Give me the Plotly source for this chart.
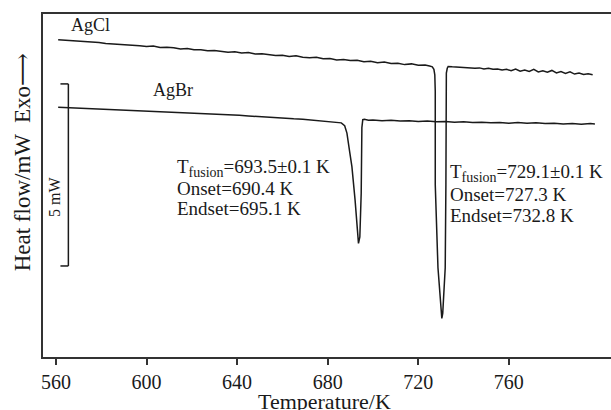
import plotly.graph_objects as go

# ---- data ----
agcl_T = [561, 564, 567, 570, 573, 576, 579, 582, 585, 588, 591, 594, 597, 600, 603, 606, 609, 612,
          615, 618, 621, 624, 627, 630, 633, 636, 639, 642, 645, 648, 651, 654, 657, 660, 663, 666,
          669, 672, 675, 678, 681, 684, 687, 690, 693, 696, 699, 702, 705, 708, 711, 714, 717, 720,
          723, 725, 726.2, 726.9, 727.3, 727.5, 727.5, 728.7, 730.0, 730.4, 730.8, 731.2, 731.9,
          732.2, 732.2, 732.4, 732.8, 733.2,
          735, 737, 739, 741, 743, 745, 747, 749, 751, 753, 755, 757, 759, 761, 763, 765, 767, 769,
          771, 773, 775, 777, 779, 781, 783, 785, 787, 789, 791, 793, 795, 797]
agcl_H = [8.71, 8.70, 8.68, 8.67, 8.67, 8.64, 8.64, 8.61, 8.60, 8.60, 8.57, 8.58, 8.55, 8.53, 8.54,
          8.50, 8.51, 8.49, 8.46, 8.47, 8.44, 8.44, 8.41, 8.42, 8.39, 8.37, 8.38, 8.35, 8.36, 8.32,
          8.33, 8.30, 8.28, 8.29, 8.25, 8.27, 8.23, 8.22, 8.23, 8.19, 8.20, 8.16, 8.17, 8.14, 8.15,
          8.11, 8.12, 8.08, 8.10, 8.06, 8.07, 8.03, 8.05, 8.01, 8.02, 7.99, 7.97, 7.90, 7.75, 7.30,
          4.73, 2.45, 1.40, 1.06, 1.20, 1.57, 2.45, 4.73, 7.50, 7.80, 7.93, 7.98,
          7.97, 7.96, 7.97, 7.94, 7.95, 7.93, 7.94, 7.91, 7.93, 7.90, 7.91, 7.88, 7.90, 7.86, 7.91,
          7.85, 7.88, 7.84, 7.90, 7.83, 7.86, 7.82, 7.87, 7.80, 7.84, 7.79, 7.83, 7.77, 7.80, 7.76,
          7.78, 7.75]

agbr_T = [561, 565, 569, 573, 577, 581, 585, 589, 593, 597, 601, 605, 609, 613, 617, 621, 625, 629,
          633, 637, 641, 645, 649, 653, 657, 661, 665, 669, 673, 677, 681, 684, 686, 687.5, 688.5,
          689.8, 690.7, 692.1, 693.0, 693.6, 694.2, 694.8, 695.1, 695.5, 696.2, 698,
          700, 704, 708, 712, 716, 720, 724, 728, 732, 736, 740, 744, 748, 752, 756, 760, 764, 768,
          772, 776, 780, 784, 788, 792, 796, 798]
agbr_H = [6.86, 6.85, 6.84, 6.83, 6.82, 6.81, 6.80, 6.79, 6.78, 6.77, 6.76, 6.75, 6.74, 6.73, 6.72,
          6.71, 6.70, 6.68, 6.67, 6.65, 6.64, 6.62, 6.60, 6.59, 6.57, 6.56, 6.54, 6.53, 6.51, 6.49,
          6.47, 6.46, 6.43, 6.35, 6.15, 5.60, 5.23, 4.31, 3.60, 3.12, 3.30, 4.50, 6.30, 6.52, 6.53,
          6.50, 6.51, 6.49, 6.50, 6.48, 6.49, 6.47, 6.48, 6.46, 6.47, 6.45, 6.46, 6.44, 6.45, 6.43,
          6.44, 6.42, 6.44, 6.42, 6.43, 6.41, 6.42, 6.40, 6.41, 6.39, 6.41, 6.40]

x_ticks = [560, 600, 640, 680, 720, 760]
scale_bar_mW = [2.5, 7.5]   # 5 mW scale bar
scale_bar_T = 565.5

FONT = "Liberation Serif"
INK = "#1a1a1a"

fig = go.Figure()
fig.add_trace(go.Scatter(x=agcl_T, y=agcl_H, mode="lines", line=dict(color=INK, width=1.5),
                         name="AgCl", showlegend=False))
fig.add_trace(go.Scatter(x=agbr_T, y=agbr_H, mode="lines", line=dict(color=INK, width=1.5),
                         name="AgBr", showlegend=False))

# scale bar (bracket)
fig.add_shape(type="line", x0=scale_bar_T, x1=scale_bar_T, y0=scale_bar_mW[0], y1=scale_bar_mW[1],
              line=dict(color=INK, width=1.5))
for yy in scale_bar_mW:
    fig.add_shape(type="line", x0=scale_bar_T - 3.5, x1=scale_bar_T, y0=yy, y1=yy,
                  line=dict(color=INK, width=1.5))

ann = []
ann.append(dict(x=559.7, y=4.4, xref="x", yref="y", text="5 mW", textangle=-90, showarrow=False,
                xanchor="center", yanchor="middle",
                font=dict(family=FONT, size=16, color=INK)))
ann.append(dict(x=575.2, y=9.12, xref="x", yref="y", text="AgCl", showarrow=False,
                xanchor="center", yanchor="middle",
                font=dict(family=FONT, size=18, color=INK)))
ann.append(dict(x=611.8, y=7.34, xref="x", yref="y", text="AgBr", showarrow=False,
                xanchor="center", yanchor="middle",
                font=dict(family=FONT, size=18, color=INK)))

def px2y(py):
    return (357 - py) / 36.4

SUB = "<sub><span style='font-size:14px'>fusion</span></sub>"
for txt, yy in [("T" + SUB + "=693.5±0.1 K", 168), ("Onset=690.4 K", 189), ("Endset=695.1 K", 209)]:
    ann.append(dict(x=612.7, y=px2y(yy), xref="x", yref="y", text=txt, showarrow=False,
                    xanchor="left", yanchor="middle", font=dict(family=FONT, size=19, color=INK)))
for txt, yy in [("T" + SUB + "=729.1±0.1 K", 173), ("Onset=727.3 K", 195), ("Endset=732.8 K", 216)]:
    ann.append(dict(x=733.3, y=px2y(yy), xref="x", yref="y", text=txt, showarrow=False,
                    xanchor="left", yanchor="middle", font=dict(family=FONT, size=19, color=INK)))

ann.append(dict(x=-0.0364, y=0.5685, xref="paper", yref="paper",
                text="Heat flow/mW  Exo<span style='font-family:DejaVu Serif'>\u27f6</span>",
                textangle=-90, showarrow=False, xanchor="center", yanchor="middle",
                font=dict(family=FONT, size=23, color=INK)))
ann.append(dict(x=0.496, y=-0.131, xref="paper", yref="paper", text="Temperature/K",
                showarrow=False, xanchor="center", yanchor="middle",
                font=dict(family=FONT, size=22, color=INK)))

fig.update_layout(
    width=611, height=410,
    margin=dict(l=43, r=0, t=14, b=53),
    paper_bgcolor="white", plot_bgcolor="white",
    annotations=ann,
    xaxis=dict(range=[554.3, 805.1], tickvals=x_ticks, ticktext=[str(v) for v in x_ticks],
               ticks="outside", ticklen=6, tickwidth=2, tickcolor="#333",
               showline=True, linewidth=2, linecolor="#333", mirror=True,
               showgrid=False, zeroline=False,
               tickfont=dict(family=FONT, size=20, color=INK)),
    yaxis=dict(range=[0, 9.42], showline=True, linewidth=2, linecolor="#333",
               showticklabels=False, ticks="", showgrid=False, zeroline=False),
)

fig.write_html("out.html", config={"displayModeBar": False},
               post_script="document.body.style.margin='0';document.body.style.overflow='hidden';")
